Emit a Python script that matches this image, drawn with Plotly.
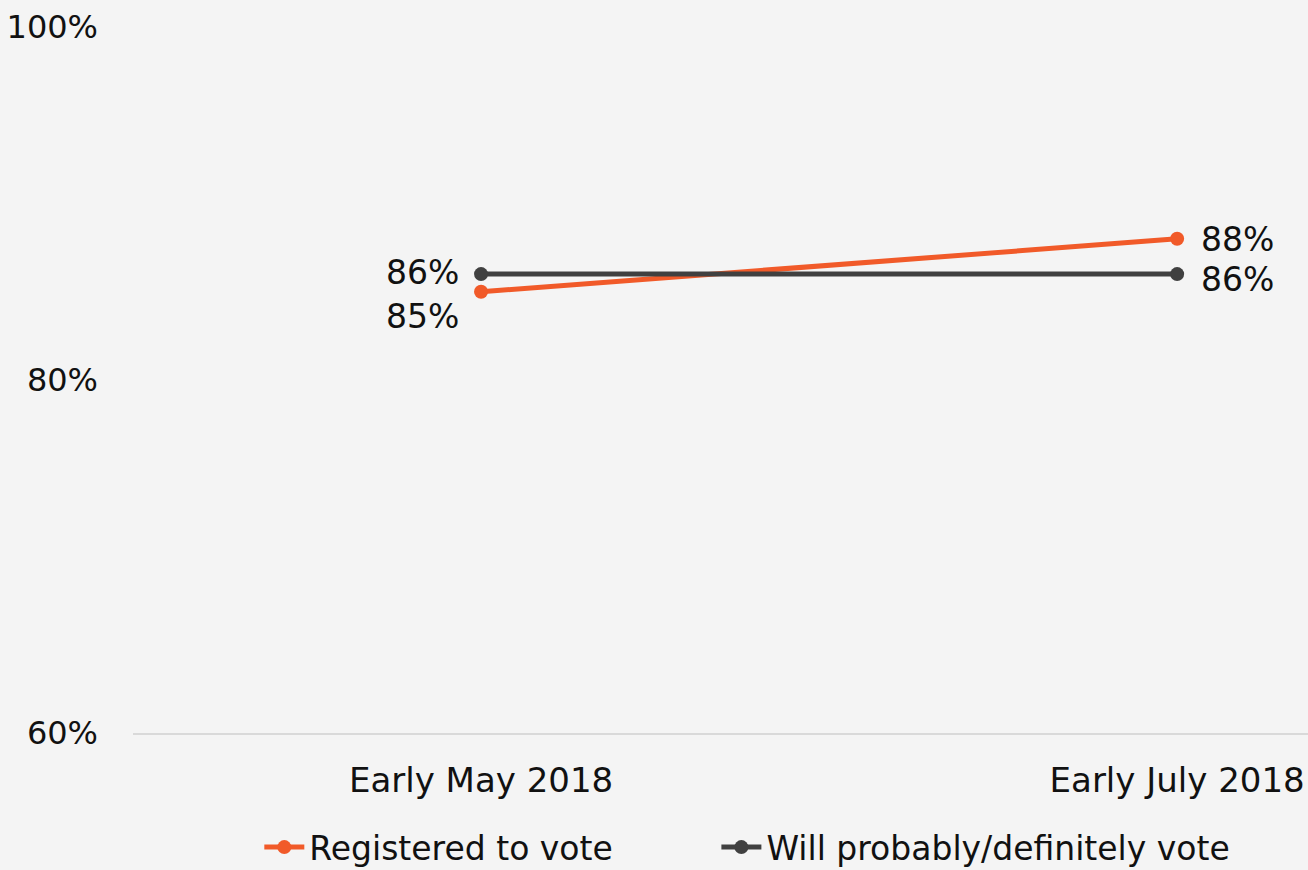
import plotly.graph_objects as go

categories = ["Early May 2018", "Early July 2018"]
registered = [85, 88]
will_vote = [86, 86]
y_ticks = [60, 80, 100]
y_tick_labels = ["60%", "80%", "100%"]

ORANGE = "#F15A29"
DARK = "#404040"
FONT = "DejaVu Sans"
FS = 34
LFS = 33
TXT = "#111111"

fig = go.Figure()
fig.add_trace(go.Scatter(
    x=categories, y=registered, name="Registered to vote", mode="lines+markers",
    line=dict(color=ORANGE, width=5), marker=dict(size=14, color=ORANGE),
    legend="legend",
))
fig.add_trace(go.Scatter(
    x=categories, y=will_vote, name="Will probably/definitely vote", mode="lines+markers",
    line=dict(color=DARK, width=5), marker=dict(size=14, color=DARK),
    legend="legend2",
))

# data labels
ann = []
ann.append(dict(x=categories[0], y=will_vote[0], text=f"{will_vote[0]}%", xanchor="right",
                yanchor="middle", xshift=-20, yshift=2, showarrow=False))
ann.append(dict(x=categories[0], y=registered[0], text=f"{registered[0]}%", xanchor="right",
                yanchor="middle", xshift=-20, yshift=-25, showarrow=False))
ann.append(dict(x=categories[1], y=registered[1], text=f"{registered[1]}%", xanchor="left",
                yanchor="middle", xshift=22, yshift=-1, showarrow=False))
ann.append(dict(x=categories[1], y=will_vote[1], text=f"{will_vote[1]}%", xanchor="left",
                yanchor="middle", xshift=22, yshift=-5, showarrow=False))
for a in ann:
    a.update(xref="x", yref="y", font=dict(family=FONT, size=LFS, color=TXT))

leg_common = dict(orientation="h", yanchor="top", y=-0.122, xanchor="left",
                  font=dict(family=FONT, size=33, color=TXT), bgcolor="rgba(0,0,0,0)",
                  itemwidth=40)

fig.update_layout(
    width=1308, height=870,
    margin=dict(l=133, r=0, t=27, b=137, autoexpand=False),
    paper_bgcolor="#f4f4f4", plot_bgcolor="#f4f4f4",
    font=dict(family=FONT, size=FS, color=TXT),
    showlegend=True,
    legend=dict(leg_common, x=0.1075),
    legend2=dict(leg_common, x=0.4965),
    annotations=ann,
    xaxis=dict(type="category", range=[-0.5, 1.188], showgrid=False, zeroline=False,
               showline=True, linecolor="#d9d9d9", linewidth=1.5, ticks="",
               ticklabelstandoff=16, fixedrange=True),
    yaxis=dict(range=[60, 100], tickvals=y_ticks, ticktext=y_tick_labels, showgrid=False,
               zeroline=False, showline=False, ticks="", ticklabelstandoff=34,
               tickfont=dict(family=FONT, size=32, color=TXT), fixedrange=True),
)

fig.write_html(
    "out.html",
    config={"displayModeBar": False},
    post_script="document.body.style.margin='0px';document.body.style.background='#f4f4f4';",
)
